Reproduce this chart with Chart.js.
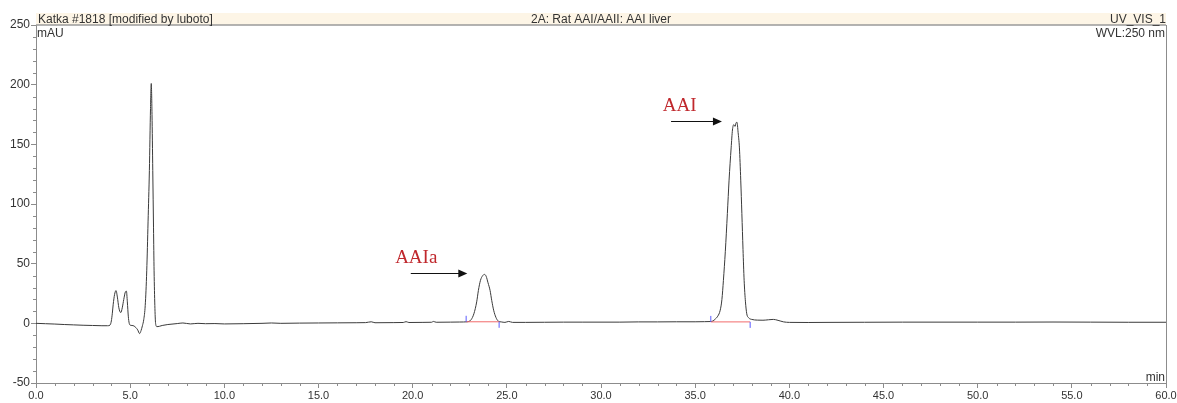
<!DOCTYPE html>
<html><head><meta charset="utf-8">
<script src="https://cdn.jsdelivr.net/npm/chart.js@4"></script>
<style>html,body{margin:0;padding:0;background:#fff;overflow:hidden}#wrap{width:1177px;height:403px}</style>
</head><body><div id="wrap"><canvas id="c" width="1177" height="403"></canvas></div>
<script>
// ---- data ----
const timeMin = [0,0.5,1,1.5,2,2.5,3,3.5,3.8,3.93,4,4.05,4.1,4.17,4.25,4.32,4.4,4.5,4.58,4.66,4.75,4.8,4.85,4.9,4.95,5,5.1,5.2,5.3,5.4,5.5,5.58,5.65,5.72,5.8,5.88,5.95,6.02,6.08,6.12,6.16,6.2,6.24,6.27,6.31,6.35,6.42,6.55,6.7,7,7.5,7.8,8.2,8.6,9,9.5,10,11,12,12.5,13,14,15,16,17,17.5,17.8,18,19,19.5,19.65,19.8,20.5,21,21.1,21.25,22,22.5,22.9,23.1,23.25,23.4,23.49,23.6,23.72,23.81,23.9,24,24.11,24.2,24.3,24.42,24.55,24.7,24.9,25.1,25.3,26,27,28,29,30,31,32,33,34,35,35.5,35.83,35.95,36.06,36.2,36.33,36.42,36.5,36.6,36.71,36.8,36.91,36.98,37.05,37.12,37.17,37.22,37.28,37.35,37.42,37.48,37.54,37.6,37.67,37.74,37.85,38,38.3,38.6,38.9,39.15,39.4,39.7,40,41,42,44,46,48,50,52,54,56,58,60];
const absorbance = [0,-0.3,-0.6,-1,-1.3,-1.6,-1.8,-2,-2,-1.5,2,8,16,24,27.5,22,13,9,13,20,26.5,27,18,6,0,-1.5,-1.8,-2.2,-3.5,-5.5,-8.6,-6,-2,3,15,44,85,128,180,201,175,128,80,44,15,0,-2.8,-2.5,-1.8,-1,-0.2,0.3,-0.5,0,-0.3,-0.2,-0.5,-0.3,0,0.3,0,0.2,0.3,0.4,0.5,0.6,1.3,0.5,0.6,0.7,1.4,0.7,0.8,0.9,1.6,0.9,1,1.1,1.3,3,8,18,27.6,36,40,41,39.5,34,27.6,19,11,5,1.8,1.2,0.8,1.6,0.8,0.8,0.9,1,1,1,1,1.2,1.2,1.3,1.3,1.4,1.5,2,3.5,6,11,20,36,60,92,120,147,162,166.5,165,168,168.5,160,147,120,92,62,36,18,8,4.5,3.3,2.7,2.6,3,3.3,2.5,1.2,0.8,0.7,0.8,0.9,1,1,1,1,1.1,1,0.9,0.9];

const xTickLabels = ['0.0','5.0','10.0','15.0','20.0','25.0','30.0','35.0','40.0','45.0','50.0','55.0','60.0'];
const yTickLabels = ['-50','0','50','100','150','200','250'];

const headerLeft = 'Katka #1818 [modified by luboto]';
const headerTitle = '2A: Rat AAI/AAII: AAI liver';
const headerRight = 'UV_VIS_1';
const yUnit = 'mAU';
const wavelength = 'WVL:250 nm';
const xUnit = 'min';

const peakNames = ['AAIa', 'AAI'];
const peakLabelTime = [19.07, 33.28];
const peakLabelValue = [50.5, 177.7];
const arrowFromTime = [19.9, 33.72];
const arrowToTime = [22.9, 36.42];
const arrowValue = [42.1, 169.3];
const integStart = [22.84, 35.83];
const integEnd = [24.59, 37.92];
const integBase = [1.3, 1.2];

// ---- drawing ----
const AX = '#8c8c8c';
const decor = {
  id: 'decor',
  beforeDraw(chart) {
    const {ctx, chartArea: a} = chart;
    ctx.save();
    ctx.fillStyle = '#fdf5e6';
    ctx.fillRect(a.left, 13, a.right - a.left, a.top - 13);
    ctx.restore();
  },
  afterDraw(chart) {
    const {ctx, chartArea: a, scales: {x, y}} = chart;
    ctx.save();
    // frame top/right
    ctx.strokeStyle = '#9a9a9a';
    ctx.lineWidth = 1.5;
    ctx.beginPath(); ctx.moveTo(a.left, a.top); ctx.lineTo(a.right, a.top); ctx.stroke();
    ctx.lineWidth = 1;
    ctx.strokeStyle = AX;
    ctx.beginPath(); ctx.moveTo(a.right + 0.5, a.top); ctx.lineTo(a.right + 0.5, a.bottom); ctx.stroke();
    // minor ticks
    ctx.beginPath();
    x.ticks.forEach(t => { if (t.value % 5 !== 0) { const p = Math.round(x.getPixelForValue(t.value)) + 0.5; ctx.moveTo(p, a.bottom); ctx.lineTo(p, a.bottom + 3); } });
    y.ticks.forEach(t => { if (t.value % 50 !== 0) { const p = Math.round(y.getPixelForValue(t.value)) + 0.5; ctx.moveTo(a.left, p); ctx.lineTo(a.left - 3, p); } });
    ctx.stroke();
    // texts
    ctx.fillStyle = '#333';
    ctx.font = '12px "Liberation Sans", Arial, sans-serif';
    ctx.textBaseline = 'alphabetic';
    ctx.textAlign = 'left'; ctx.fillText(headerLeft, a.left + 2, 22.5);
    ctx.textAlign = 'center'; ctx.fillText(headerTitle, (a.left + a.right) / 2, 22.5);
    ctx.textAlign = 'right'; ctx.fillText(headerRight, a.right, 22.5);
    ctx.textAlign = 'left'; ctx.fillText(yUnit, a.left + 1, 36.5);
    ctx.textAlign = 'right'; ctx.fillText(wavelength, a.right - 1, 36.5);
    ctx.fillText(xUnit, a.right - 1, a.bottom - 2);
    // integration marks
    for (let i = 0; i < integStart.length; i++) {
      const x1 = x.getPixelForValue(integStart[i]), x2 = x.getPixelForValue(integEnd[i]);
      const yb = y.getPixelForValue(integBase[i]);
      ctx.strokeStyle = '#f26b6b'; ctx.lineWidth = 1;
      ctx.beginPath(); ctx.moveTo(x1, yb); ctx.lineTo(x2, yb); ctx.stroke();
      ctx.strokeStyle = '#5a5aff';
      ctx.beginPath(); ctx.moveTo(x1, yb); ctx.lineTo(x1, yb - 6); ctx.moveTo(x2, yb); ctx.lineTo(x2, yb + 6); ctx.stroke();
    }
    // peak annotations
    for (let i = 0; i < peakNames.length; i++) {
      ctx.fillStyle = '#c0282d';
      ctx.font = '19px "Liberation Serif", "Times New Roman", serif';
      ctx.textAlign = 'left';
      ctx.fillText(peakNames[i], x.getPixelForValue(peakLabelTime[i]), y.getPixelForValue(peakLabelValue[i]));
      const ax1 = x.getPixelForValue(arrowFromTime[i]), ax2 = x.getPixelForValue(arrowToTime[i]);
      const ay = Math.round(y.getPixelForValue(arrowValue[i])) + 0.5;
      ctx.strokeStyle = '#111'; ctx.fillStyle = '#111'; ctx.lineWidth = 1;
      ctx.beginPath(); ctx.moveTo(ax1, ay); ctx.lineTo(ax2 - 8, ay); ctx.stroke();
      ctx.beginPath(); ctx.moveTo(ax2, ay); ctx.lineTo(ax2 - 9, ay - 4); ctx.lineTo(ax2 - 9, ay + 4); ctx.closePath(); ctx.fill();
    }
    ctx.restore();
  }
};

new Chart(document.getElementById('c'), {
  type: 'line',
  data: { datasets: [{
    data: timeMin.map((t, i) => ({x: t, y: absorbance[i]})),
    borderColor: '#3a3a3a', borderWidth: 1, pointRadius: 0, fill: false,
    cubicInterpolationMode: 'monotone'
  }]},
  options: {
    responsive: false, animation: false, devicePixelRatio: 1,
    layout: { padding: { top: 25, right: 11, left: 0, bottom: 0 } },
    plugins: { legend: { display: false }, tooltip: { enabled: false } },
    scales: {
      x: {
        type: 'linear', min: 0, max: 60,
        afterFit: s => { s.height = 20; s.paddingLeft = 0; s.paddingRight = 0; },
        ticks: {
          stepSize: 1, autoSkip: false, maxRotation: 0, padding: 1,
          color: '#333', font: { family: '"Liberation Sans", Arial, sans-serif', size: 11 },
          callback: v => (v % 5 === 0 ? xTickLabels[v / 5] : '')
        },
        grid: { drawOnChartArea: false, drawTicks: true, tickLength: 5,
          tickColor: c => (c.tick && c.tick.value % 5 === 0 ? AX : 'rgba(0,0,0,0)') },
        border: { color: AX, width: 1 }
      },
      y: {
        type: 'linear', min: -50, max: 250,
        afterFit: s => { s.width = 36; s.paddingTop = 0; s.paddingBottom = 0; },
        ticks: {
          stepSize: 10, autoSkip: false, padding: 1,
          color: '#333', font: { family: '"Liberation Sans", Arial, sans-serif', size: 12 },
          callback: v => (v % 50 === 0 ? yTickLabels[(v + 50) / 50] : '')
        },
        grid: { drawOnChartArea: false, drawTicks: true, tickLength: 5,
          tickColor: c => (c.tick && c.tick.value % 50 === 0 ? AX : 'rgba(0,0,0,0)') },
        border: { color: AX, width: 1 }
      }
    }
  },
  plugins: [decor]
});
</script>
</body></html>
